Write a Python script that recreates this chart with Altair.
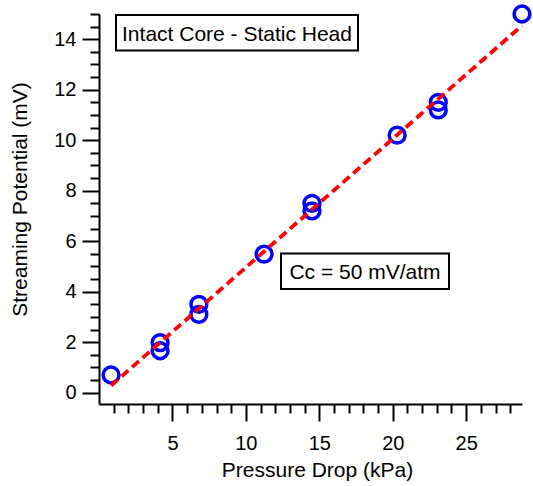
import altair as alt
import pandas as pd

# Data
pressure_kpa = [0.82, 4.16, 4.16, 6.8, 6.8, 11.24, 14.5, 14.5, 20.3, 23.1, 23.1, 28.8]
potential_mv = [0.70, 1.98, 1.66, 3.5, 3.1, 5.49, 7.5, 7.2, 10.2, 11.5, 11.2, 15.0]

x_major_ticks = [5, 10, 15, 20, 25]
x_minor_ticks = [1, 2, 3, 4, 6, 7, 8, 9, 11, 12, 13, 14, 16, 17, 18, 19,
                 21, 22, 23, 24, 26, 27, 28]
y_major_ticks = [0, 2, 4, 6, 8, 10, 12, 14]
y_minor_ticks = [0.5, 1, 1.5, 2.5, 3, 3.5, 4.5, 5, 5.5, 6.5, 7, 7.5, 8.5, 9, 9.5,
                 10.5, 11, 11.5, 12.5, 13, 13.5, 14.5, 15]

x_domain = [0, 28.8]
y_domain = [-0.45, 15.0]

title_box_text = ["Intact Core - Static Head"]
coef_box_text = ["Cc = 50 mV/atm"]

df = pd.DataFrame({"pressure": pressure_kpa, "potential": potential_mv})

FONT = "Liberation Sans"

xscale = alt.Scale(domain=x_domain, nice=False, zero=False)
yscale = alt.Scale(domain=y_domain, nice=False, zero=False)

axis_common = dict(grid=False, domainColor="black", domainWidth=2,
                   tickColor="black", tickWidth=2, labelColor="black",
                   labelFont=FONT, titleFont=FONT, titleColor="black",
                   titleFontWeight="normal")

x_major_axis = alt.Axis(values=x_major_ticks, tickSize=17, labelFontSize=20,
                        labelPadding=12, title="Pressure Drop (kPa)",
                        titleFontSize=21, titleX=218, titleY=72,
                        titleBaseline="alphabetic", orient="bottom",
                        labelFlush=False, **axis_common)
y_major_axis = alt.Axis(values=y_major_ticks, tickSize=17, labelFontSize=20,
                        labelPadding=6, title="Streaming Potential (mV)",
                        titleFontSize=21, titleX=-73, titleY=185,
                        titleAngle=-90, titleBaseline="alphabetic",
                        orient="left", labelFlush=False, **axis_common)

x_minor_axis = alt.Axis(values=x_minor_ticks, tickSize=9, labels=False,
                        domain=False, title=None, orient="bottom",
                        grid=False, tickColor="black", tickWidth=2)
y_minor_axis = alt.Axis(values=y_minor_ticks, tickSize=9, labels=False,
                        domain=False, title=None, orient="left",
                        grid=False, tickColor="black", tickWidth=2)

points = alt.Chart(df).mark_point(
    shape="circle", filled=False, stroke="#0000ff", strokeWidth=3.5, size=250,
    opacity=1, clip=False
).encode(
    x=alt.X("pressure:Q", scale=xscale, axis=x_major_axis),
    y=alt.Y("potential:Q", scale=yscale, axis=y_major_axis),
)

fit = alt.Chart(df).transform_regression(
    "pressure", "potential"
).mark_line(
    color="#ff0000", strokeWidth=3.8, strokeDash=[9, 5]
).encode(
    x=alt.X("pressure:Q", scale=xscale, axis=x_minor_axis),
    y=alt.Y("potential:Q", scale=yscale, axis=y_minor_axis),
)

box_df1 = pd.DataFrame({"label": title_box_text})
box_df2 = pd.DataFrame({"label": coef_box_text})

box1 = alt.Chart(box_df1).mark_rect(
    fill="white", stroke="black", strokeWidth=2
).encode(x=alt.value(17), x2=alt.value(259), y=alt.value(1), y2=alt.value(36.5))
text1 = alt.Chart(box_df1).mark_text(
    font=FONT, fontSize=21, color="black", align="center", baseline="alphabetic"
).encode(x=alt.value(138), y=alt.value(26.5), text="label:N")

box2 = alt.Chart(box_df2).mark_rect(
    fill="white", stroke="black", strokeWidth=2
).encode(x=alt.value(182), x2=alt.value(350), y=alt.value(239.5), y2=alt.value(275))
text2 = alt.Chart(box_df2).mark_text(
    font=FONT, fontSize=21, color="black", align="center", baseline="alphabetic"
).encode(x=alt.value(266), y=alt.value(264.5), text="label:N")

chart = alt.layer(points, fit, box1, text1, box2, text2).resolve_axis(
    x="independent", y="independent"
).properties(
    width=423, height=390,
    autosize=alt.AutoSizeParams(type="none"),
    padding={"left": 99, "top": 14, "right": 11, "bottom": 82},
    background="white",
).configure_view(strokeWidth=0)

chart.save("out.html", embed_options={"renderer": "svg", "actions": False})
